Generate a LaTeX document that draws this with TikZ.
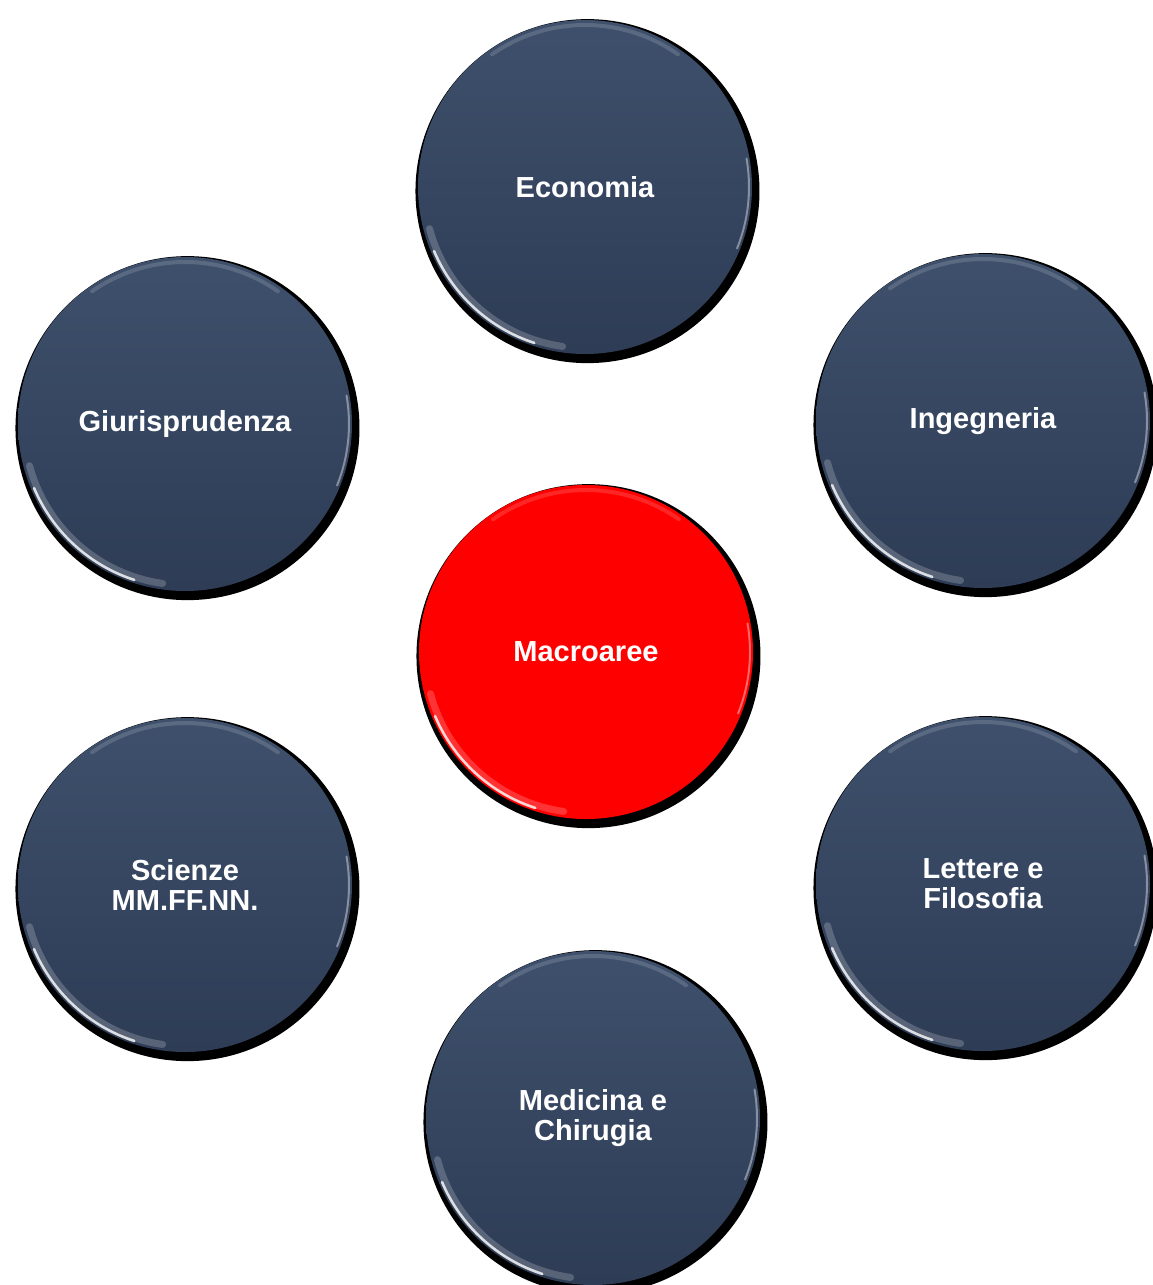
\documentclass[tikz,border=0pt]{standalone}
\usepackage{fontspec}
\setmainfont{Liberation Sans}
\usetikzlibrary{shadows}
\definecolor{slate}{RGB}{62,80,108}
\definecolor{slatedark}{RGB}{46,60,85}
\tikzset{%
  area/.style  = {shape=circle, minimum size=167pt, inner sep=0pt,%
                  align=center, text=white,%
                  font=\fontsize{14.5}{15}\selectfont\bfseries,%
                  top color=slate, bottom color=slatedark,%
                  drop shadow={shadow xshift=1.2pt, shadow yshift=-2pt,%
                               shadow scale=1.03, opacity=1, fill=black}},%
  core/.style  = {area, top color=red, bottom color=red},%
  glint/.style = {white, line cap=round}%
}
\begin{document}
\begin{tikzpicture}[x=0.5pt,y=0.5pt]
  \useasboundingbox (0,0) rectangle (1152,-1285);
  \node [core] (mac) at (586,-652)  {Macroaree};
  \node [area] (eco) at (585,-187)  {Economia};
  \node [area] (giu) at (185,-424)  {Giurisprudenza};
  \node [area] (ing) at (983,-421)  {Ingegneria};
  \node [area] (sci) at (185,-885)  {Scienze\\MM.FF.NN.};
  \node [area] (let) at (983,-884)  {Lettere e\\Filosofia};
  \node [area] (med) at (593,-1118) {Medicina e\\Chirugia};
  % rim highlights
  \foreach \n in {mac,eco,giu,ing,sci,let,med}{
    \draw [glint, line width=3.5pt, opacity=0.2]
      (\n.center) ++(195:80.5pt) arc[start angle=195, end angle=262, radius=80.5pt];
    \draw [glint, line width=1.3pt, opacity=0.8]
      (\n.center) ++(203:82pt) arc[start angle=203, end angle=252, radius=82pt];
    \draw [glint, line width=1pt, opacity=0.4]
      (\n.center) ++(-22:82pt) arc[start angle=-22, end angle=10, radius=82pt];
    \draw [glint, line width=2pt, opacity=0.15]
      (\n.center) ++(55:81pt) arc[start angle=55, end angle=125, radius=81pt];
  }
\end{tikzpicture}
\end{document}
